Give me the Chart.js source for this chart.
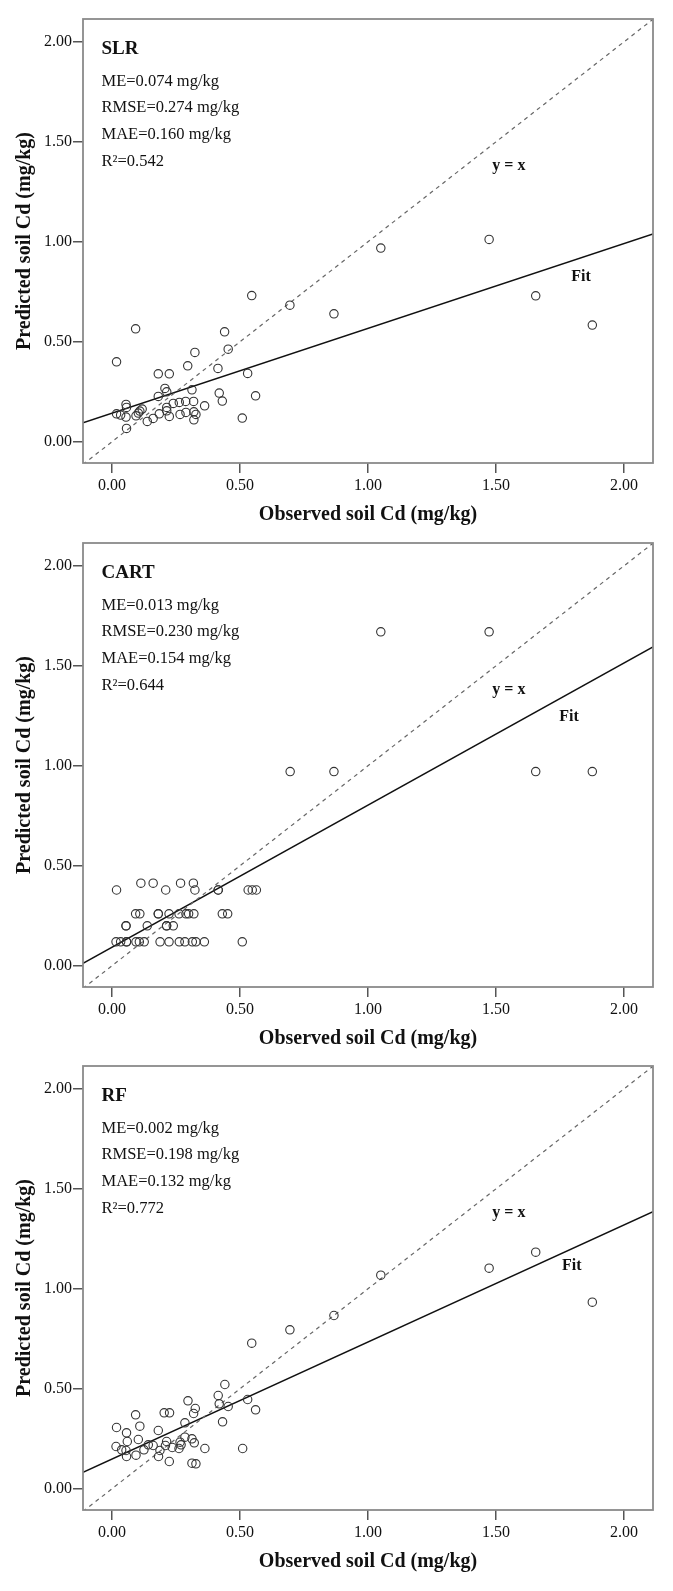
<!DOCTYPE html>
<html>
<head>
<meta charset="utf-8">
<script src="https://cdn.jsdelivr.net/npm/chart.js@4.4.1/dist/chart.umd.min.js"></script>
<style>
  body { margin: 0; background: #fff; }
  .panel { position: absolute; left: 0; width: 673px; height: 540px; }
</style>
</head>
<body>
<div class="panel" style="top:0px"><canvas id="slrChart" width="673" height="540"></canvas></div>
<div class="panel" style="top:524px"><canvas id="cartChart" width="673" height="540"></canvas></div>
<div class="panel" style="top:1047px"><canvas id="rfChart" width="673" height="540"></canvas></div>
<script>
// Осі (спільні для всіх трьох панелей)
const axisTicks = [0, 0.5, 1, 1.5, 2];
const xRange = [-0.113, 2.113];
const yRange = [-0.106, 2.114];

// SLR: спостережене / прогнозоване
const slrObs = [0.0925, 0.018, 0.695, 0.44, 0.454, 0.324, 0.296, 0.414, 0.53, 0.181, 0.224, 0.207, 0.214, 0.3125, 0.419, 0.561, 0.181, 0.431, 0.2395, 0.263, 0.288, 0.319, 0.362, 0.214, 0.055, 0.057, 0.018, 0.034, 0.055, 0.094, 0.109, 0.118, 0.103, 0.138, 0.161, 0.185, 0.224, 0.266, 0.289, 0.32, 0.328, 0.32, 0.214, 0.509, 0.057, 1.05, 1.473, 0.867, 1.655, 1.876, 0.546];
const slrPred = [0.565, 0.40, 0.683, 0.55, 0.463, 0.447, 0.38, 0.367, 0.342, 0.34, 0.34, 0.267, 0.25, 0.26, 0.2435, 0.23, 0.227, 0.2035, 0.192, 0.197, 0.202, 0.202, 0.18, 0.172, 0.187, 0.172, 0.14, 0.1335, 0.1235, 0.13, 0.1535, 0.1635, 0.1435, 0.102, 0.117, 0.14, 0.127, 0.137, 0.147, 0.15, 0.137, 0.11, 0.155, 0.1185, 0.067, 0.9685, 1.012, 0.64, 0.73, 0.5835, 0.731];

// CART
const cartObs = [1.05, 1.473, 0.867, 1.655, 1.876, 0.696,
  0.113, 0.161, 0.268, 0.318,
  0.018, 0.21, 0.324, 0.415, 0.415, 0.532, 0.548, 0.564,
  0.0925, 0.109, 0.181, 0.181, 0.223, 0.262, 0.289, 0.2995, 0.32, 0.431, 0.452,
  0.055, 0.055, 0.138, 0.2135, 0.2135, 0.2395,
  0.016, 0.034, 0.057, 0.057, 0.094, 0.107, 0.126, 0.188, 0.223, 0.263, 0.285, 0.314, 0.328, 0.361, 0.509];
const cartPred = [1.67, 1.67, 0.971, 0.971, 0.971, 0.971,
  0.413, 0.413, 0.413, 0.413,
  0.379, 0.379, 0.379, 0.379, 0.379, 0.379, 0.379, 0.379,
  0.26, 0.26, 0.26, 0.26, 0.26, 0.26, 0.26, 0.26, 0.26, 0.26, 0.26,
  0.20, 0.20, 0.20, 0.20, 0.20, 0.20,
  0.12, 0.12, 0.12, 0.12, 0.12, 0.12, 0.12, 0.12, 0.12, 0.12, 0.12, 0.12, 0.12, 0.12, 0.12];

// RF
const rfObs = [0.441, 0.415, 0.419, 0.454, 0.53, 0.561, 0.432, 0.297, 0.3255, 0.319, 0.204, 0.225, 0.0925, 0.018, 0.109, 0.285, 0.057, 0.181, 0.103, 0.06, 0.285, 0.3125, 0.3215, 0.2135, 0.266, 0.016, 0.038, 0.055, 0.057, 0.094, 0.125, 0.142, 0.161, 0.1875, 0.182, 0.209, 0.2355, 0.262, 0.27, 0.224, 0.3125, 0.328, 0.363, 0.5105, 1.05, 1.473, 1.655, 1.876, 0.867, 0.695, 0.546];
const rfPred = [0.5215, 0.4665, 0.425, 0.4115, 0.4465, 0.395, 0.335, 0.44, 0.4015, 0.3765, 0.38, 0.38, 0.37, 0.3065, 0.313, 0.33, 0.28, 0.2915, 0.2465, 0.2365, 0.258, 0.25, 0.23, 0.2365, 0.233, 0.2115, 0.195, 0.1915, 0.1615, 0.168, 0.195, 0.22, 0.2165, 0.1915, 0.1615, 0.2165, 0.2065, 0.2015, 0.22, 0.1365, 0.128, 0.125, 0.2015, 0.2015, 1.068, 1.103, 1.183, 0.933, 0.8665, 0.795, 0.728];

// Лінії регресії: [перетин, нахил]
const slrFit = [0.143, 0.424];
const cartFit = [0.0924, 0.711];
const rfFit = [0.149, 0.585];

// Підписи статистик
const slrStats = ['ME=0.074 mg/kg', 'RMSE=0.274 mg/kg', 'MAE=0.160 mg/kg', 'R\u00b2=0.542'];
const cartStats = ['ME=0.013 mg/kg', 'RMSE=0.230 mg/kg', 'MAE=0.154 mg/kg', 'R\u00b2=0.644'];
const rfStats = ['ME=0.002 mg/kg', 'RMSE=0.198 mg/kg', 'MAE=0.132 mg/kg', 'R\u00b2=0.772'];

const serif = "'Liberation Serif', 'Times New Roman', serif";

// Рамка та текст усередині панелі
const panelPlugin = {
    id: 'panelText',
    afterDatasetsDraw(chart, args, opts) {
        const { ctx, chartArea: a, scales } = chart;
        ctx.save();
        ctx.strokeStyle = '#8a8a8a';
        ctx.lineWidth = 1.8;
        ctx.strokeRect(a.left, a.top, a.right - a.left, a.bottom - a.top);

        ctx.fillStyle = '#111';
        ctx.textAlign = 'left';
        ctx.textBaseline = 'alphabetic';
        ctx.font = `bold 19px ${serif}`;
        ctx.fillText(opts.name, a.left + 18.5, a.top + 35);
        ctx.font = `16.5px ${serif}`;
        opts.stats.forEach((s, i) => ctx.fillText(s, a.left + 18.5, a.top + 66.7 + i * 26.7));

        ctx.font = `bold 16px ${serif}`;
        ctx.textAlign = 'center';
        ctx.textBaseline = 'middle';
        ctx.fillText('y = x', scales.x.getPixelForValue(1.55), scales.y.getPixelForValue(1.38));
        ctx.fillText('Fit', scales.x.getPixelForValue(opts.fitLabel[0]), scales.y.getPixelForValue(opts.fitLabel[1]));
        ctx.restore();
    }
};

function makeChart(id, name, obs, pred, fit, stats, fitLabel) {
    const ctx = document.getElementById(id).getContext('2d');
    return new Chart(ctx, {
        type: 'scatter',
        data: {
            datasets: [{
                data: obs.map((v, i) => ({ x: v, y: pred[i] })),
                pointStyle: 'circle',
                pointRadius: 4.2,
                borderWidth: 1.1,
                borderColor: '#333',
                backgroundColor: 'rgba(0,0,0,0)'
            }, {
                type: 'line',
                data: [{ x: xRange[0], y: xRange[0] }, { x: xRange[1], y: xRange[1] }],
                borderColor: '#666',
                borderWidth: 1.2,
                borderDash: [4, 4],
                pointRadius: 0
            }, {
                type: 'line',
                data: xRange.map(v => ({ x: v, y: fit[0] + fit[1] * v })),
                borderColor: '#111',
                borderWidth: 1.5,
                pointRadius: 0
            }]
        },
        options: {
            responsive: false,
            animation: false,
            layout: { padding: { top: 19, right: 20, left: 0, bottom: 0 } },
            plugins: {
                legend: { display: false },
                tooltip: { enabled: false },
                panelText: { name, stats, fitLabel }
            },
            scales: {
                x: {
                    type: 'linear',
                    min: xRange[0],
                    max: xRange[1],
                    afterBuildTicks: s => { s.ticks = axisTicks.map(v => ({ value: v })); },
                    afterFit: s => { s.height = 77; },
                    grid: { drawOnChartArea: false, tickLength: 10, color: '#555', lineWidth: 1.5 },
                    border: { display: false },
                    ticks: { callback: v => v.toFixed(2), font: { family: serif, size: 16 }, color: '#111', padding: 3, maxRotation: 0 },
                    title: { display: true, text: 'Observed soil Cd (mg/kg)', color: '#111', font: { family: serif, size: 20, weight: 'bold' }, padding: { top: 0, bottom: 13 } }
                },
                y: {
                    type: 'linear',
                    min: yRange[0],
                    max: yRange[1],
                    afterBuildTicks: s => { s.ticks = axisTicks.map(v => ({ value: v })); },
                    afterFit: s => { s.width = 83; },
                    grid: { drawOnChartArea: false, tickLength: 10, color: '#555', lineWidth: 1.5 },
                    border: { display: false },
                    ticks: { callback: v => v.toFixed(2), font: { family: serif, size: 16 }, color: '#111', padding: 1 },
                    title: { display: true, text: 'Predicted soil Cd (mg/kg)', color: '#111', font: { family: serif, size: 20, weight: 'bold' }, padding: { top: 13, bottom: 0 } }
                }
            }
        },
        plugins: [panelPlugin]
    });
}

makeChart('slrChart', 'SLR', slrObs, slrPred, slrFit, slrStats, [1.832, 0.827]);
makeChart('cartChart', 'CART', cartObs, cartPred, cartFit, cartStats, [1.785, 1.245]);
makeChart('rfChart', 'RF', rfObs, rfPred, rfFit, rfStats, [1.796, 1.113]);
</script>
</body>
</html>
